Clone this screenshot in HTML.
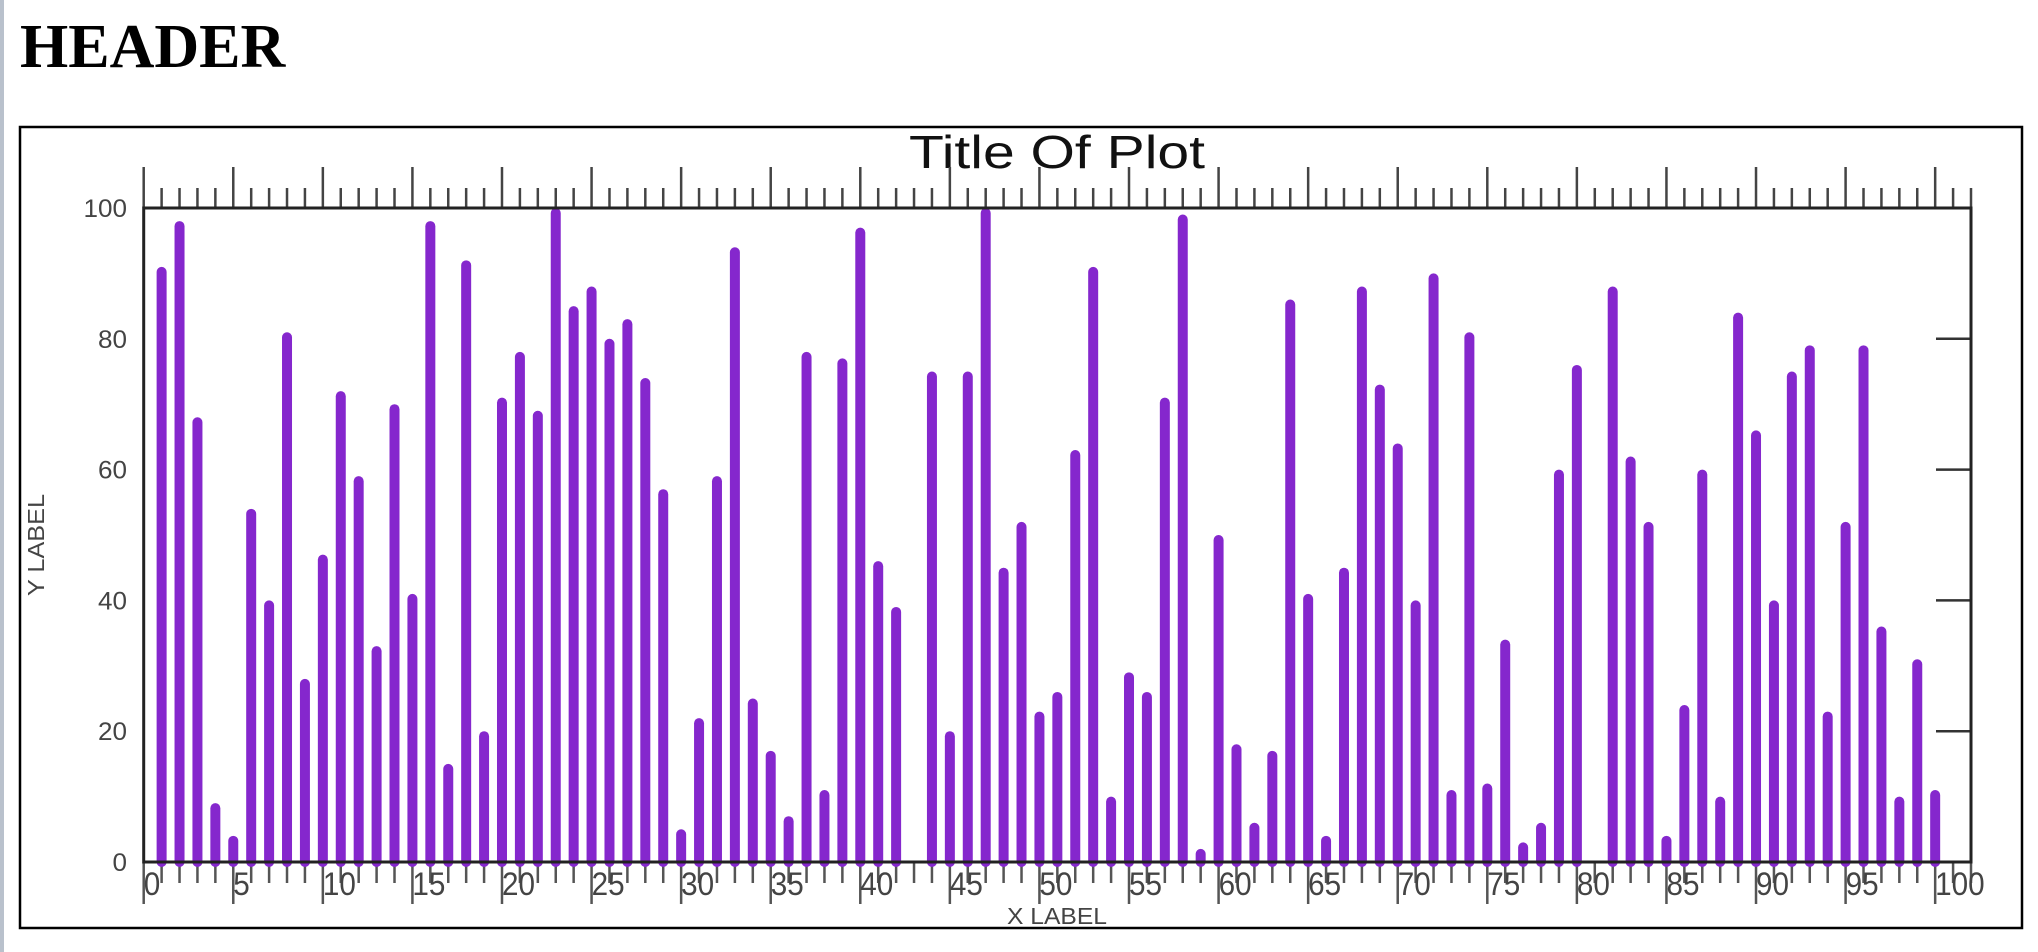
<!DOCTYPE html>
<html><head><meta charset="utf-8"><style>
html,body{margin:0;padding:0;background:#fff;width:2038px;height:952px;overflow:hidden}
svg{display:block}
</style></head><body>
<svg id="chart" width="2038" height="952" viewBox="0 0 2038 952">
<rect x="0" y="0" width="4" height="952" fill="#b9c1cc"/>
<text x="20" y="67" font-family="Liberation Serif, serif" font-weight="bold" font-size="62" fill="#000">HEADER</text>
<rect x="20" y="127" width="2002" height="801" fill="#fff" stroke="#000" stroke-width="2.5"/>
<text x="1057" y="168" text-anchor="middle" font-family="Liberation Sans, sans-serif" font-size="46" fill="#111" textLength="296" lengthAdjust="spacingAndGlyphs">Title Of Plot</text>
<text x="1057" y="924" text-anchor="middle" font-family="Liberation Sans, sans-serif" font-size="23" fill="#444" textLength="100" lengthAdjust="spacingAndGlyphs">X LABEL</text>
<text x="0" y="0" transform="translate(44,545) rotate(-90)" text-anchor="middle" font-family="Liberation Sans, sans-serif" font-size="23" fill="#444" textLength="102" lengthAdjust="spacingAndGlyphs">Y LABEL</text>
<g id="ticks"></g>
<g id="bars"></g>
<g id="axes"></g>
</svg>
<script>
const categories = Array.from({length:100},(_,i)=>i+1);
const values = [91,98,68,9,4,54,40,81,28,47,72,59,33,70,41,98,15,92,20,71,78,69,100,85,88,80,83,74,57,5,
22,59,94,25,17,7,78,11,77,97,46,39,0,75,20,75,100,45,52,23,26,63,91,10,29,26,71,99,2,50,
18,6,17,86,41,4,45,88,73,64,40,90,11,81,12,34,3,6,60,76,0,88,62,52,4,24,60,10,84,66,
40,75,79,23,52,79,36,10,31,11];
const yTicks = [0,20,40,60,80,100];
const xTickLabels = [0,5,10,15,20,25,30,35,40,45,50,55,60,65,70,75,80,85,90,95,100];
const X0=143.7, X1=1971, XMAX=102, Y0=862, Y1=208;
const sx=v=>X0+(X1-X0)*v/XMAX, sy=v=>Y0-(Y0-Y1)*v/100;
const NS='http://www.w3.org/2000/svg';
function mk(tag,attrs,parent){const e=document.createElementNS(NS,tag);for(const k in attrs)e.setAttribute(k,attrs[k]);parent.appendChild(e);return e;}
const bars=document.getElementById('bars'), ticks=document.getElementById('ticks'), axes=document.getElementById('axes');
categories.forEach((c,i)=>{
  const v=values[i]; if(!v) return;
  const x=sx(c), top=sy(v);
  const b=mk('line',{x1:x,y1:Y0,x2:x,y2:Math.min(top+5,Y0),stroke:'#8527cd','stroke-width':10,'stroke-linecap':'round'},bars);
  
  
});
for(let k=0;k<=XMAX;k++){
  const x=sx(k), major=k%5===0;
  const t=mk('line',{x1:x,y1:Y1,x2:x,y2:major?167:188,stroke:'#444','stroke-width':2.5},ticks);
  
  
  const b=mk('line',{x1:x,y1:Y0,x2:x,y2:major?904:883,stroke:'#555','stroke-width':2.5},ticks);
  
  
}
xTickLabels.forEach(v=>{
  const s=String(v);
  const t=mk('text',{x:sx(v),y:895,'font-family':'Liberation Sans, sans-serif','font-size':32,fill:'#444',textLength:s.length*16.5,lengthAdjust:'spacingAndGlyphs'},axes);
  t.textContent=s;
  
  
});
yTicks.forEach(v=>{
  const y=sy(v), s=String(v);
  const t=mk('text',{x:127,y:y+9,'text-anchor':'end','font-family':'Liberation Sans, sans-serif','font-size':25,fill:'#444',textLength:s.length*14.5,lengthAdjust:'spacingAndGlyphs'},axes);
  t.textContent=s;
  
  
  const r=mk('line',{x1:X1-35,y1:y,x2:X1,y2:y,stroke:'#333','stroke-width':2.5},axes);
  
  
});
const ax=mk('path',{d:`M${X0} ${Y1}L${X1} ${Y1}L${X1} ${Y0}L${X0} ${Y0}Z`,fill:'none',stroke:'#222','stroke-width':3},axes);


</script>
</body></html>
